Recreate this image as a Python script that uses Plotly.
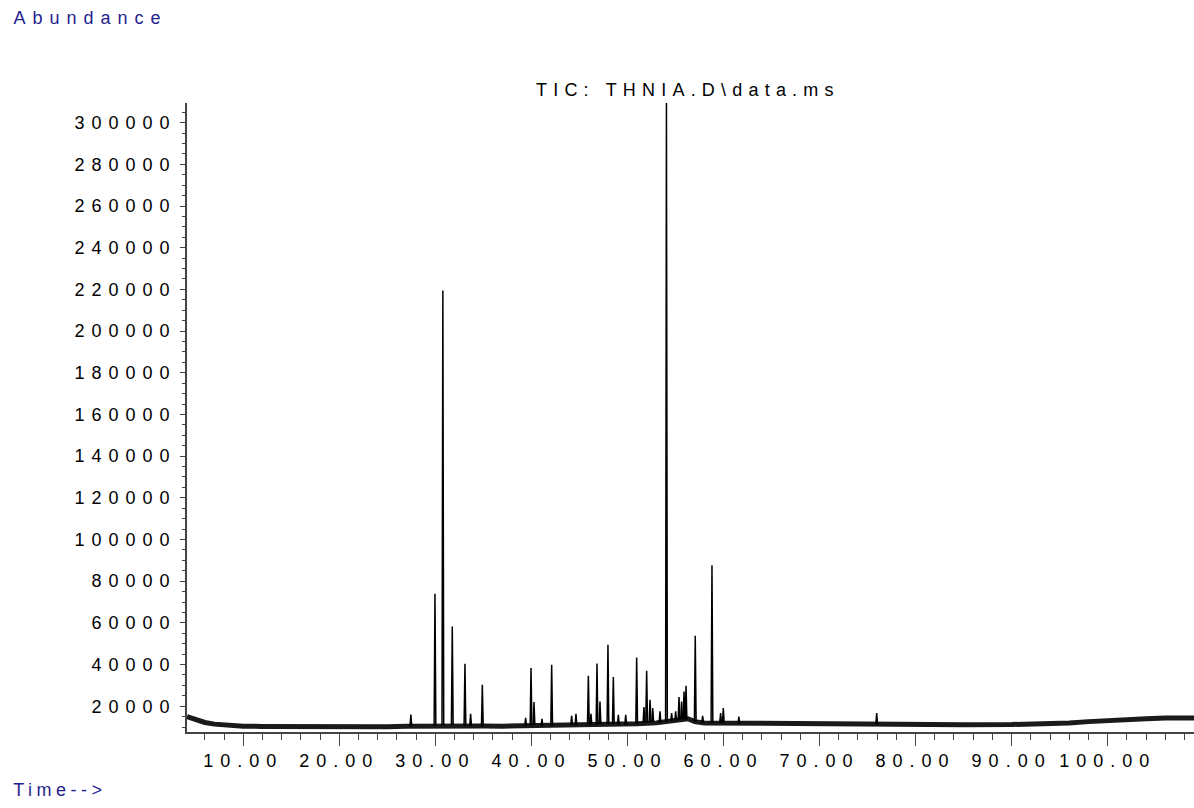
import plotly.graph_objects as go

# ---- data (time in min, abundance) ----
base_time = [4.14, 4.6, 5.2, 6.0, 7.0, 8.0, 9.0, 10, 12, 15, 18, 20, 22, 25, 27, 29, 31, 33, 35, 37,
             40, 43, 45, 47, 49, 51, 53, 54.5, 55.5, 56.3, 57, 58, 60, 62, 65, 70, 75, 80, 85, 90,
             93, 96, 98, 100, 102, 104, 106, 108, 109]
base_abund = [15000, 14200, 13200, 12200, 11400, 10900, 10600, 10400, 10300, 10200, 10200, 10100,
              10300, 10200, 10400, 10500, 10700, 10600, 10500, 10400, 10600, 10700, 11000, 11200,
              11300, 11600, 12000, 12600, 13500, 14000, 12600, 12000, 11900, 11800, 11700, 11500,
              11300, 11200, 11100, 11200, 11500, 12000, 12600, 13200, 13700, 14000, 14300, 14400, 14300]

peak_time = [27.45, 29.96, 30.78, 31.76, 33.08, 33.67, 34.89, 39.40, 39.96, 40.27, 41.10, 42.11,
             44.19, 44.64, 45.93, 46.20, 46.83, 47.14, 47.97, 48.53, 49.05, 49.82, 50.96, 51.72,
             52.00, 52.35, 52.63, 53.39, 54.06, 54.60, 55.02, 55.37, 55.64, 55.89, 56.10, 57.06,
             57.83, 58.80, 59.70, 59.98, 61.60, 75.95]
peak_abund = [16000, 74000, 219500, 58200, 40400, 16400, 30300, 14400, 38300, 22000, 13900, 39900,
              15400, 16400, 34600, 16400, 40500, 22300, 49500, 34000, 15900, 15900, 43400, 19600,
              37000, 23100, 19100, 17500, 310000, 16700, 17500, 24400, 22300, 27100, 29800, 53800,
              15400, 87600, 16700, 19100, 15000, 16700]
peak_foot = [10400, 10600, 10800, 11000, 10600, 10500, 10400, 10700, 10800, 11000, 10600, 10600,
             11000, 11000, 11200, 11300, 11200, 11400, 11300, 11500, 11200, 11300, 11500, 12000,
             12200, 12400, 12300, 12000, 12500, 12800, 13000, 13300, 13600, 13800, 13600, 12500,
             12000, 12000, 12000, 11800, 11600, 11200]

x_tick_step = 10
y_tick_step = 20000

HW = 0.09  # half width of a peak, minutes

sx, sy = [], []
for t, h, f in zip(peak_time, peak_abund, peak_foot):
    sx += [t - HW, t, t + HW, None]
    sy += [f, h, f, None]

fig = go.Figure()
fig.add_trace(go.Scatter(x=base_time, y=base_abund, mode="lines",
                         line=dict(color="#1a1a1a", width=5), hoverinfo="skip"))
fig.add_trace(go.Scatter(x=sx, y=sy, mode="lines",
                         line=dict(color="#000000", width=1.5), connectgaps=False))

axcol = "#444444"
fig.update_layout(
    width=1194, height=808,
    margin=dict(l=187, r=0, t=103, b=76),
    plot_bgcolor="white", paper_bgcolor="white",
    showlegend=False,
    font=dict(family="Liberation Sans, Arial, sans-serif", size=18, color="black"),
    xaxis=dict(range=[4.14, 108.99], showline=True, linecolor=axcol, linewidth=1.5,
               ticks="outside", ticklen=12, tickcolor=axcol, tickwidth=1,
               tick0=0, dtick=x_tick_step, tickformat=".2f", showgrid=False, zeroline=False,
               minor=dict(ticks="outside", ticklen=6, dtick=2, tick0=0, tickcolor=axcol, showgrid=False)),
    yaxis=dict(range=[7626, 309450], showline=True, linecolor=axcol, linewidth=1.5,
               ticks="outside", ticklen=5, tickcolor=axcol, tickwidth=1,
               tick0=0, dtick=y_tick_step, tickformat="d", showgrid=False, zeroline=False,
               minor=dict(ticks="outside", ticklen=3, dtick=5000, tick0=0, tickcolor=axcol, showgrid=False)),
    annotations=[
        dict(text="TIC: THNIA.D\\data.ms", xref="paper", yref="paper", x=0.4975, y=1.0207,
             xanchor="center", yanchor="middle", showarrow=False,
             font=dict(size=18, color="black")),
        dict(text="Abundance", xref="paper", yref="paper", x=-0.0963, y=1.1359,
             xanchor="center", yanchor="middle", showarrow=False,
             font=dict(size=18, color="#1f1f8f")),
        dict(text="Time-->", xref="paper", yref="paper", x=-0.1261, y=-0.0922,
             xanchor="center", yanchor="middle", showarrow=False,
             font=dict(size=18, color="#1f1f8f")),
    ],
)

post = """
(function(){
  document.body.style.margin = '0';
  document.body.style.overflow = 'hidden';
  var gd = document.getElementById('{plot_id}');
  function sp(){
    var cl = gd.querySelectorAll('.annotation [clip-path], .annotation[clip-path]');
    for (var j = 0; j < cl.length; j++) cl[j].removeAttribute('clip-path');
    var ts = gd.querySelectorAll('text');
    for (var i = 0; i < ts.length; i++) {
      var t = ts[i]; var s = t.textContent || '';
      var v = '7px';
      if (s.indexOf('TIC') === 0) v = '6.2px';
      else if (s.indexOf('Time') === 0) v = '4.5px';
      t.style.letterSpacing = v;
    }
  }
  try { sp(); gd.on('plotly_afterplot', sp); } catch (e) {}
  setTimeout(sp, 50); setTimeout(sp, 300);
})();
"""

fig.write_html("out.html", post_script=post, config={"displayModeBar": False})
